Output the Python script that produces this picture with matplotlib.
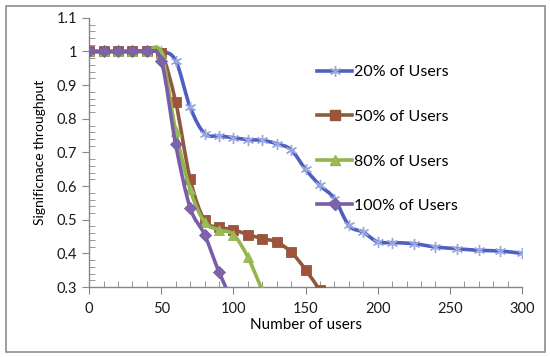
import numpy as np
import matplotlib
matplotlib.use("Agg")
import matplotlib.pyplot as plt
from matplotlib.path import Path
from matplotlib.patches import PathPatch, Rectangle
from matplotlib.lines import Line2D
from matplotlib.ticker import MultipleLocator

plt.rcParams['font.family'] = ['Lato', 'DejaVu Sans']

# ---- data ----
x_20 = [0, 10, 20, 30, 40, 50, 60, 70, 80, 90, 100, 110, 120, 130, 140, 150, 160,
        170, 180, 190, 200, 210, 225, 240, 255, 270, 285, 300]
y_20 = [1, 1, 1, 1, 1, 1, 0.973, 0.835, 0.756, 0.749, 0.744, 0.738, 0.736, 0.726,
        0.708, 0.650, 0.602, 0.563, 0.483, 0.463, 0.434, 0.432, 0.429, 0.419,
        0.414, 0.409, 0.407, 0.400]
x_50 = [0, 10, 20, 30, 40, 50, 60, 70, 80, 90, 100, 110, 120, 130, 140, 150, 160]
y_50 = [1, 1, 1, 1, 1, 0.995, 0.850, 0.622, 0.498, 0.478, 0.470, 0.456, 0.444,
        0.434, 0.404, 0.352, 0.290]
x_80 = [0, 10, 20, 30, 40, 50, 60, 70, 80, 90, 100, 110, 120]
y_80 = [1, 1, 1, 1, 1, 0.995, 0.765, 0.590, 0.493, 0.470, 0.456, 0.389, 0.290]
x_100 = [0, 10, 20, 30, 40, 50, 60, 70, 80, 90, 100]
y_100 = [1, 1, 1, 1, 1, 0.973, 0.724, 0.536, 0.456, 0.345, 0.250]

labels = ["20% of Users", "50% of Users", "80% of Users", "100% of Users"]
x_ticks = [0, 50, 100, 150, 200, 250, 300]
y_ticks = [0.3, 0.4, 0.5, 0.6, 0.7, 0.8, 0.9, 1.0, 1.1]
y_ticklabels = ["0.3", "0.4", "0.5", "0.6", "0.7", "0.8", "0.9", "1", "1.1"]

line_colors = ["#4F5FC0", "#8E5A3E", "#93B54E", "#7A5DA8"]
marker_face = ["#9AA8E0", "#A0533A", "#9BBB59", "#7F63A8"]
markers = [(6, 2, 0), "s", "^", "D"]
msizes = [8, 6.5, 7.5, 6]


def smooth_path(xs, ys):
    pts = np.column_stack([xs, ys]).astype(float)
    n = len(pts)
    verts = [pts[0]]
    codes = [Path.MOVETO]
    for i in range(n - 1):
        p0 = pts[i - 1] if i > 0 else pts[i]
        p1 = pts[i]
        p2 = pts[i + 1]
        p3 = pts[i + 2] if i + 2 < n else pts[i + 1]
        c1 = p1 + (p2 - p0) / 6.0
        c2 = p2 - (p3 - p1) / 6.0
        verts += [c1, c2, p2]
        codes += [Path.CURVE4] * 3
    return Path(verts, codes)


fig = plt.figure(figsize=(5.5, 3.57), dpi=100)
ax = fig.add_axes([0.162, 0.196, 0.787, 0.754])

series = [(x_20, y_20), (x_50, y_50), (x_80, y_80), (x_100, y_100)]
for i, (xs, ys) in enumerate(series):
    patch = PathPatch(smooth_path(xs, ys), facecolor="none",
                      edgecolor=line_colors[i], lw=2.6, zorder=2 + i)
    ax.add_patch(patch)
    ax.plot(xs, ys, linestyle="none", marker=markers[i], ms=msizes[i],
            mfc=marker_face[i], mec=marker_face[i] if i == 0 else line_colors[i],
            mew=1.0 if i == 0 else 0.6, zorder=2.5 + i)

ax.set_xlim(0, 300)
ax.set_ylim(0.3, 1.1)
ax.set_xticks(x_ticks)
ax.set_yticks(y_ticks)
ax.set_yticklabels(y_ticklabels)
ax.xaxis.set_minor_locator(MultipleLocator(10))
ax.yaxis.set_minor_locator(MultipleLocator(0.02))
ax.tick_params(which="major", direction="out", length=5, color="#868686",
               labelsize=10.5, labelcolor="#1a1a1a")
ax.tick_params(which="minor", direction="in", length=4, color="#868686")
ax.tick_params(axis="x", pad=6)
for s in ["top", "right"]:
    ax.spines[s].set_visible(False)
for s in ["left", "bottom"]:
    ax.spines[s].set_color("#868686")
    ax.spines[s].set_linewidth(1.0)

ax.set_xlabel("Number of users", fontsize=11, labelpad=1)
ax.set_ylabel("Significnace throughput", fontsize=10, labelpad=8)

handles = [Line2D([], [], color=line_colors[i], lw=2.6, marker=markers[i],
                  ms=msizes[i], mfc=marker_face[i],
                  mec=marker_face[i] if i == 0 else line_colors[i])
           for i in range(4)]
fig.legend(handles, labels, loc="upper left", bbox_to_anchor=(0.565, 0.835),
           frameon=False, fontsize=11.5, labelspacing=1.9, handlelength=2.2,
           handletextpad=0.1, borderaxespad=0)

fig.patches.append(Rectangle((0.011, 0.014), 0.979, 0.969, transform=fig.transFigure,
                             fill=False, edgecolor="#8c8c8c", lw=1.2))

fig.savefig("out.png", dpi=100)
